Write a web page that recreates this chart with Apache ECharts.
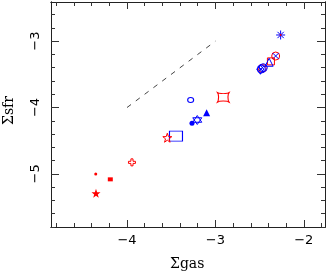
<!DOCTYPE html>
<html><head><meta charset="utf-8">
<script src="https://cdn.jsdelivr.net/npm/echarts@6/dist/echarts.min.js"></script>
<style>html,body{margin:0;padding:0;background:#fff}#c{width:327px;height:273px}</style>
</head><body><div id="c"></div>
<script>
// ---- data ----
const xRange = [-4.86, -1.76];
const yRange = [-5.80, -2.41];
const xMajor = [-4, -3, -2];
const yMajor = [-5, -4, -3];
const xMinor = [-4.8,-4.6,-4.4,-4.2,-3.8,-3.6,-3.4,-3.2,-2.8,-2.6,-2.4,-2.2,-1.8];
const yMinor = [-5.8,-5.6,-5.4,-5.2,-4.8,-4.6,-4.4,-4.2,-3.8,-3.6,-3.4,-3.2,-2.8,-2.6,-2.4];
const refLine = [[-4, -4], [-3, -3]];

const redAsterDot   = [[-2.262, -2.907]];
const blueAsterisk  = [[-2.262, -2.907]];
const redCircles    = [[-2.318, -3.224], [-2.470, -3.410]];
const blueX         = [[-2.318, -3.224], [-2.485, -3.420]];
const redSquareOpen = [[-2.372, -3.305]];
const blueTriOpen   = [[-2.392, -3.318]];
const blueCircles   = [[-2.480, -3.420], [-2.458, -3.400]];
const blueDiamond   = [[-2.492, -3.425]];
const blueEllipse   = [[-3.280, -3.887]];
const redConcaveSq  = [[-2.911, -3.846]];
const blueTriFilled = [[-3.099, -4.078]];
const blueHexagram  = [[-3.205, -4.188]];
const blueDotFilled = [[-3.265, -4.238]];
const blueRect      = [[-3.446, -4.430]];
const redStarOpen   = [[-3.544, -4.455]];
const redCrossOpen  = [[-3.944, -4.826]];
const redSmallDot   = [[-4.354, -5.002]];
const redRectFilled = [[-4.189, -5.082]];
const redStarFilled = [[-4.351, -5.293]];

const RED = '#ff0000', BLUE = '#0000ff';
const fmt = v => String(Math.round(v)).replace('-', '\u2212');
const FONT = 'DejaVu Sans';

function star(r1, r2) {
  let d = '';
  for (let i = 0; i < 10; i++) {
    const r = i % 2 ? r2 : r1;
    const a = -Math.PI / 2 + i * Math.PI / 5;
    d += (i ? 'L' : 'M') + (r * Math.cos(a)).toFixed(2) + ',' + (r * Math.sin(a)).toFixed(2);
  }
  return 'path://' + d + 'Z';
}
const P = {
  asterisk: 'path://M0,-5L0,5M-5,0L5,0M-3.5,-3.5L3.5,3.5M-3.5,3.5L3.5,-3.5',
  x: 'path://M-4,-4L4,4M-4,4L4,-4',
  tri: 'path://M0,-5L5,4L-5,4Z',
  concave: 'path://M-6,-5L-4,-4Q0,-3.3 4,-4L6,-5L5,-3Q4.3,0 5,3L6,5L4,4Q0,3.3 -4,4L-6,5L-5,3Q-4.3,0 -5,-3Z',
  hexagram: 'path://M0,-5L4.33,2.5L-4.33,2.5ZM0,5L4.33,-2.5L-4.33,-2.5Z',
  cross: 'path://M-1.5,-5L1.5,-5L1.5,-1.5L5,-1.5L5,1.5L1.5,1.5L1.5,5L-1.5,5L-1.5,1.5L-5,1.5L-5,-1.5L-1.5,-1.5Z',
  star: star(5, 2)
};

function sc(data, symbol, size, color, filled, extra) {
  return Object.assign({
    type: 'scatter', data, symbol, symbolSize: size, silent: true, z: 5,
    itemStyle: filled ? { color: color, borderWidth: 0, opacity: 1 }
                      : { color: 'rgba(0,0,0,0)', borderColor: color, borderWidth: 1, opacity: 1 }
  }, extra || {});
}

function xAx(pos, vals, len, labels) {
  return {
    type: 'value', position: pos, min: xRange[0], max: xRange[1],
    axisLine: { show: true, onZero: false, lineStyle: { color: '#222', width: 1 } },
    axisTick: { show: true, inside: true, length: len, customValues: vals, lineStyle: { color: '#333' } },
    axisLabel: labels ? { show: true, customValues: vals, formatter: fmt, margin: 7,
      fontFamily: FONT, fontSize: 13, color: '#000' } : { show: false },
    splitLine: { show: false }
  };
}
function yAx(pos, vals, len, labels) {
  return {
    type: 'value', position: pos, min: yRange[0], max: yRange[1],
    axisLine: { show: true, onZero: false, lineStyle: { color: '#222', width: 1 } },
    axisTick: { show: true, inside: true, length: len, customValues: vals, lineStyle: { color: '#333' } },
    axisLabel: labels ? { show: true, customValues: vals, formatter: fmt, margin: 9, rotate: 90,
      fontFamily: FONT, fontSize: 13, color: '#000' } : { show: false },
    splitLine: { show: false }
  };
}

const chart = echarts.init(document.getElementById('c'), null, { renderer: 'canvas' });
chart.setOption({
  animation: false,
  backgroundColor: '#fff',
  grid: { left: 51, right: 2, top: 2, bottom: 46, containLabel: false },
  xAxis: [xAx('bottom', xMajor, 7, true), xAx('bottom', xMinor, 4, false),
          xAx('top', xMajor, 7, false), xAx('top', xMinor, 4, false)],
  yAxis: [yAx('left', yMajor, 8, true), yAx('left', yMinor, 4, false),
          yAx('right', yMajor, 8, false), yAx('right', yMinor, 4, false)],
  graphic: [
    { type: 'text', left: 170, top: 257, style: { text: '\u03A3gas', font: '14px "DejaVu Serif"', fill: '#000' } },
    { type: 'text', x: 2, y: 125, rotation: Math.PI / 2, style: { text: '\u03A3sfr', font: '14px "DejaVu Serif"', fill: '#000' } }
  ],
  series: [
    { type: 'line', data: refLine, symbol: 'none', silent: true,
      lineStyle: { color: '#444', width: 1, type: [5, 6] } },
    sc(blueAsterisk, P.asterisk, 9, BLUE, false),
    sc(redAsterDot, 'circle', 2, RED, true),
    sc(redCircles, 'circle', 8, RED, false),
    sc(blueX, P.x, 6, BLUE, false),
    sc(redSquareOpen, 'rect', 7, RED, false),
    sc(blueTriOpen, P.tri, 8, BLUE, false),
    sc(blueCircles, 'circle', 8, BLUE, false),
    sc(blueDiamond, 'diamond', [7, 9], BLUE, false),
    sc(blueEllipse, 'circle', [6, 5], BLUE, false),
    sc(redConcaveSq, P.concave, [12, 10], RED, false),
    sc(blueTriFilled, P.tri, 7, BLUE, true),
    sc(blueHexagram, P.hexagram, 9, BLUE, false),
    sc(blueDotFilled, 'circle', 5, BLUE, true),
    sc(blueRect, 'rect', [13, 10], BLUE, false),
    sc(redStarOpen, P.star, 9, RED, false),
    sc(redCrossOpen, P.cross, 7, RED, false),
    sc(redSmallDot, 'circle', 3, RED, true),
    sc(redRectFilled, 'rect', [5, 4], RED, true),
    sc(redStarFilled, P.star, 9, RED, true)
  ]
});
</script></body></html>
